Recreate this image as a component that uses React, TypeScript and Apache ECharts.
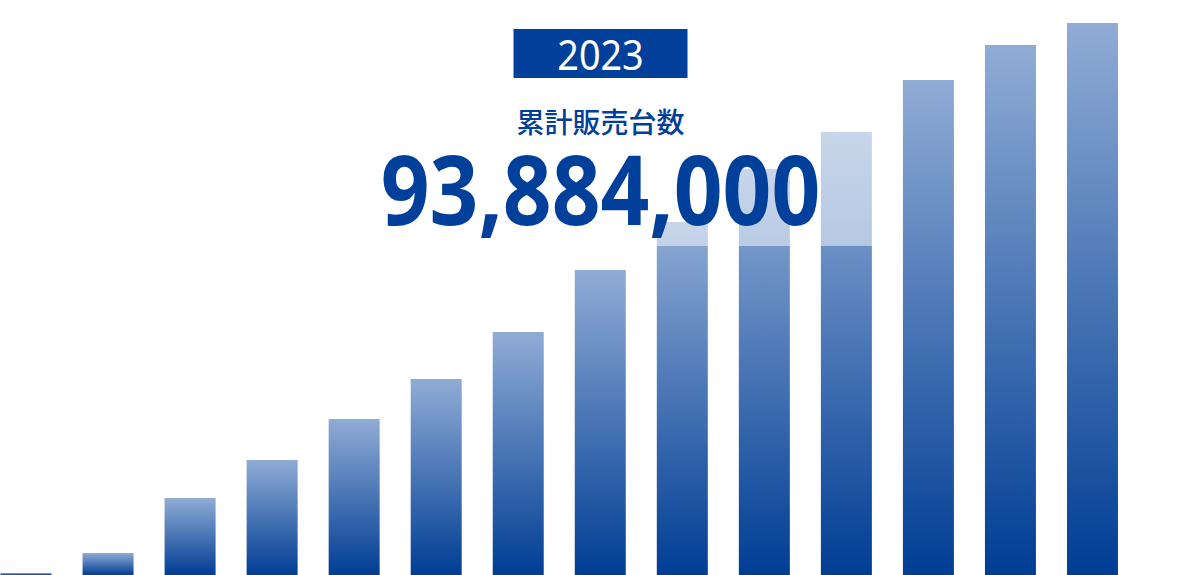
import { useEffect, useRef } from 'react';
import * as echarts from 'echarts';

const years = ['2010', '2011', '2012', '2013', '2014', '2015', '2016', '2017', '2018', '2019', '2020', '2021', '2022', '2023'];
// cumulative units, millions
const cumulative = [0.34, 3.74, 13.1, 19.56, 26.53, 33.34, 41.33, 51.87, 60.04, 69.05, 75.34, 84.19, 90.14, 93.884];

const yearLabel = '2023';
const subtitle = '累計販売台数';
const totalLabel = '93,884,000';

const BLUE = '#00409a';
// the chart div sits this far left of the page edge so the first bar touches it
const SHIFT = 15.5;

export default function App() {
  const chartRef = useRef<HTMLDivElement>(null);

  useEffect(() => {
    if (!chartRef.current) return;
    const chart = echarts.init(chartRef.current, undefined, { renderer: 'svg' });

    const option: echarts.EChartsOption = {
      animation: false,
      grid: {
        left: 0,
        right: 67.5,
        top: 0,
        bottom: 0,
      },
      xAxis: {
        type: 'category',
        data: years,
        show: false,
      },
      yAxis: {
        type: 'value',
        min: 0,
        max: 97.8,
        show: false,
      },
      series: [
        {
          type: 'bar',
          data: cumulative,
          barWidth: 51,
          itemStyle: {
            color: new echarts.graphic.LinearGradient(0, 0, 0, 1, [
              { offset: 0, color: '#90acd5' },
              { offset: 1, color: '#003d94' },
            ]),
          },
        },
      ],
      graphic: [
        {
          type: 'group',
          x: SHIFT,
          y: 0,
          z: 10,
          children: [
            {
              type: 'rect',
              z: 10,
              shape: { x: 370, y: 0, width: 510, height: 246 },
              style: { fill: 'rgba(255,255,255,0.5)' },
            },
            {
              type: 'rect',
              z: 11,
              shape: { x: 513, y: 29, width: 174, height: 49 },
              style: { fill: BLUE },
            },
            {
              type: 'text',
              z: 12,
              x: 600,
              y: 54,
              scaleX: 0.9,
              style: {
                text: yearLabel,
                fill: '#ffffff',
                fontSize: 42,
                fontFamily: 'Noto Sans',
                textAlign: 'center',
                textVerticalAlign: 'middle',
              },
            },
            {
              type: 'text',
              z: 12,
              x: 600,
              y: 121,
              style: {
                text: subtitle,
                fill: BLUE,
                fontSize: 28,
                fontWeight: 500,
                fontFamily: 'Noto Sans CJK JP',
                textAlign: 'center',
                textVerticalAlign: 'middle',
              },
            },
            {
              type: 'text',
              z: 12,
              x: 600,
              y: 188,
              scaleX: 0.89,
              style: {
                text: totalLabel,
                fill: BLUE,
                fontSize: 96,
                fontWeight: 'bold',
                fontFamily: 'Noto Sans',
                textAlign: 'center',
                textVerticalAlign: 'middle',
              },
            },
          ],
        },
      ],
    };

    chart.setOption(option);

    return () => {
      chart.dispose();
    };
  }, []);

  return (
    <div
      ref={chartRef}
      style={{
        position: 'absolute',
        left: `-${SHIFT}px`,
        top: 0,
        width: `${1200 + SHIFT}px`,
        height: '575px',
        background: '#ffffff',
      }}
    />
  );
}
